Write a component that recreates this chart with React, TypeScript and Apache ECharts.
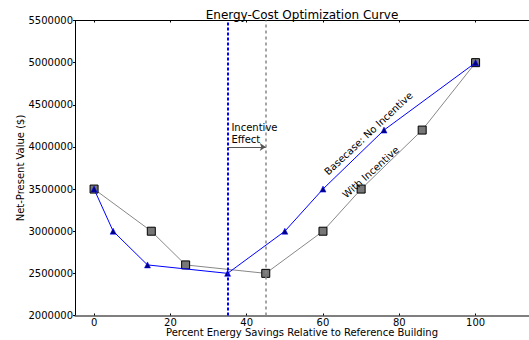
import React, { useEffect, useRef } from "react";
import * as echarts from "echarts";

const titleText = "Energy-Cost Optimization Curve";
const xName = "Percent Energy Savings Relative to Reference Building";
const yName = "Net-Present Value ($)";

const baseX = [0, 5, 14, 35, 50, 60, 76, 100];
const baseY = [3500000, 3000000, 2600000, 2500000, 3000000, 3500000, 4200000, 5000000];
const incX = [0, 15, 24, 45, 60, 70, 86, 100];
const incY = [3500000, 3000000, 2600000, 2500000, 3000000, 3500000, 4200000, 5000000];

const xTicks = [0, 20, 40, 60, 80, 100];
const xMin = -5;
const xMax = 114;
const yMin = 2000000;
const yMax = 5500000;
const yStep = 500000;

const baseOptimumX = 35;
const incOptimumX = 45;
const arrowY = 4000000;
const effectLabel = "Incentive\nEffect";
const effectLabelPos = [36, 4165000];
const baseLabel = "Basecase: No Incentive";
const baseLabelPos = [71.9, 4160000];
const incLabel = "With Incentive";
const incLabelPos = [72.5, 3700000];

const FONT = "DejaVu Sans";

export default function App() {
  const ref = useRef<HTMLDivElement>(null);

  useEffect(() => {
    if (!ref.current) return;
    const chart = echarts.init(ref.current, undefined, { renderer: "svg" });
    const pairs = (xs: number[], ys: number[]) => xs.map((x, i) => [x, ys[i]]);

    chart.setOption({
      animation: false,
      backgroundColor: "#ffffff",
      textStyle: { fontFamily: FONT },
      title: {
        text: titleText,
        left: 297,
        top: 4,
        textAlign: "center",
        textStyle: { fontFamily: FONT, fontSize: 12, fontWeight: "normal", color: "#000" },
      },
      grid: {
        left: 75,
        right: 0,
        top: 20.5,
        bottom: 24.5,
        containLabel: false,
        outerBoundsMode: "none",
      },
      xAxis: [
        {
          type: "value",
          min: xMin,
          max: xMax,
          position: "bottom",
          name: xName,
          nameLocation: "middle",
          nameGap: 12,
          nameMoveOverlap: false,
          nameTextStyle: { fontFamily: FONT, fontSize: 10, color: "#000" },
          axisLine: { show: true, onZero: false, lineStyle: { color: "#555", width: 1.5 } },
          axisTick: { show: true, inside: true, length: 2, customValues: xTicks, lineStyle: { color: "#000" } },
          axisLabel: { customValues: xTicks, margin: 2, fontFamily: FONT, fontSize: 10, color: "#000" },
          splitLine: { show: false },
        },
        {
          type: "value",
          min: xMin,
          max: xMax,
          position: "top",
          axisLine: { show: true, onZero: false, lineStyle: { color: "#000", width: 1 } },
          axisTick: { show: true, inside: true, length: 2, customValues: xTicks, lineStyle: { color: "#000" } },
          axisLabel: { show: false },
          splitLine: { show: false },
        },
      ],
      yAxis: {
        type: "value",
        min: yMin,
        max: yMax,
        interval: yStep,
        name: yName,
        nameLocation: "middle",
        nameGap: 50,
        nameMoveOverlap: false,
        nameTextStyle: { fontFamily: FONT, fontSize: 10, color: "#000" },
        axisLine: { show: true, onZero: false, lineStyle: { color: "#000", width: 1 } },
        axisTick: { show: true, inside: false, length: 2, lineStyle: { color: "#000" } },
        axisLabel: {
          margin: 2,
          fontFamily: FONT,
          fontSize: 10,
          color: "#000",
          formatter: (v: number) => String(v),
        },
        splitLine: { show: false },
      },
      series: [
        {
          name: "With Incentive",
          type: "line",
          xAxisIndex: 0,
          data: pairs(incX, incY),
          symbol: "rect",
          symbolSize: 8,
          lineStyle: { color: "#888888", width: 1 },
          itemStyle: { color: "#777777", borderColor: "#000", borderWidth: 1 },
          z: 2,
          markLine: {
            silent: true,
            symbol: ["none", "none"],
            label: { show: false },
            lineStyle: { color: "#888888", type: [3, 3], width: 1.5 },
            data: [{ xAxis: incOptimumX }],
          },
          markPoint: {
            silent: true,
            symbol: "circle",
            symbolSize: 0,
            data: [
              {
                coord: incLabelPos,
                label: {
                  show: true,
                  position: "inside",
                  formatter: incLabel,
                  rotate: 42,
                  align: "center",
                  verticalAlign: "middle",
                  fontFamily: FONT,
                  fontSize: 10,
                  color: "#000",
                },
              },
              {
                coord: effectLabelPos,
                label: {
                  show: true,
                  position: "inside",
                  formatter: effectLabel,
                  align: "left",
                  verticalAlign: "middle",
                  lineHeight: 12,
                  fontFamily: FONT,
                  fontSize: 10,
                  color: "#000",
                },
              },
            ],
          },
        },
        {
          name: "Basecase: No Incentive",
          type: "line",
          xAxisIndex: 0,
          data: pairs(baseX, baseY),
          symbol: "triangle",
          symbolSize: 6,
          lineStyle: { color: "#0000ff", width: 1 },
          itemStyle: { color: "#000080", borderColor: "#0000ff", borderWidth: 0.5 },
          z: 3,
          markLine: {
            silent: true,
            symbol: ["none", "none"],
            label: { show: false },
            lineStyle: { color: "#0000ff", type: [3, 2], width: 2 },
            data: [{ xAxis: baseOptimumX }],
          },
        },
        {
          name: "annotations",
          type: "line",
          xAxisIndex: 0,
          data: [],
          z: 4,
          markLine: {
            silent: true,
            symbol: ["none", "arrow"],
            symbolSize: 6,
            label: { show: false },
            lineStyle: { color: "#555555", type: "solid", width: 1.2 },
            data: [[{ coord: [baseOptimumX, arrowY] }, { coord: [incOptimumX, arrowY] }]],
          },
          markPoint: {
            silent: true,
            symbol: "circle",
            symbolSize: 0,
            data: [
              {
                coord: baseLabelPos,
                label: {
                  show: true,
                  position: "inside",
                  formatter: baseLabel,
                  rotate: 43,
                  align: "center",
                  verticalAlign: "middle",
                  fontFamily: FONT,
                  fontSize: 10,
                  color: "#000",
                },
              },
            ],
          },
        },
      ],
    });

    return () => chart.dispose();
  }, []);

  return (
    <div
      ref={ref}
      style={{ position: "fixed", left: 0, top: 0, width: 529, height: 340 }}
    />
  );
}
